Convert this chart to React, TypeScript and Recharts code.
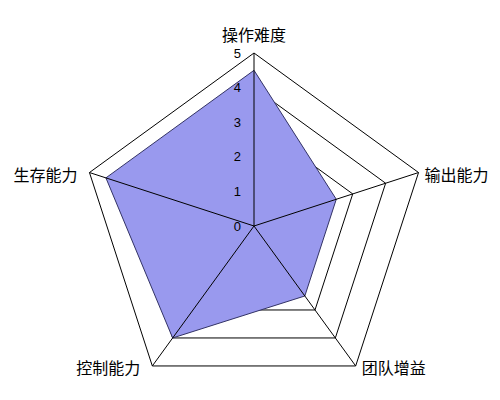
import React from "react";
import {
  RadarChart,
  Radar,
  PolarGrid,
  PolarAngleAxis,
  PolarRadiusAxis,
} from "recharts";

const subjects = ["操作难度", "输出能力", "团队增益", "控制能力", "生存能力"];
const scores = [4.5, 2.5, 2.5, 4, 4.5];
const radiusTicks = [0, 1, 2, 3, 4, 5];

const data = subjects.map((subject, i) => ({ subject, value: scores[i] }));

const CX = 246;
const CY = 218;
const R = 173;

const AngleTick = (props: any) => {
  const { payload } = props;
  const rad = (payload.coordinate * Math.PI) / 180;
  const cos = Math.cos(rad);
  const vx = CX + R * cos;
  const vy = CY - R * Math.sin(rad);
  let x = vx;
  let y = vy;
  let anchor: "start" | "middle" | "end" = "middle";
  if (cos > 0.01) {
    anchor = "start";
    x = vx + 6;
    y = vy + 1;
  } else if (cos < -0.01) {
    anchor = "end";
    x = vx - 12;
    y = vy + 1;
  } else {
    y = vy - 19;
  }
  return (
    <text
      x={x}
      y={y}
      textAnchor={anchor}
      dominantBaseline="central"
      fontSize={16}
      fontFamily="'Noto Sans CJK SC', sans-serif"
      fill="#000"
    >
      {payload.value}
    </text>
  );
};

const RadiusTick = (props: any) => {
  const { x, y, payload } = props;
  return (
    <text
      x={x - 13}
      y={y}
      textAnchor="end"
      dominantBaseline="central"
      fontSize={13}
      fontFamily="'Liberation Sans', sans-serif"
      fill="#000"
    >
      {payload.value}
    </text>
  );
};

export default function App() {
  return (
    <div style={{ width: 500, height: 400, background: "#fff" }}>
      <RadarChart
        width={500}
        height={400}
        data={data}
        cx={CX}
        cy={CY}
        outerRadius={R}
        margin={{ top: 0, right: 0, bottom: 0, left: 0 }}
      >
        <PolarGrid gridType="polygon" radialLines={false} stroke="#000" strokeOpacity={1} />
        <PolarAngleAxis
          dataKey="subject"
          tick={AngleTick}
          tickLine={false}
          axisLine={false}
        />
        <PolarRadiusAxis
          angle={90}
          domain={[0, 5]}
          ticks={radiusTicks as any}
          tickCount={6}
          axisLine={false}
          tickLine={false}
          tick={RadiusTick}
        />
        <Radar
          dataKey="value"
          stroke="#333366"
          strokeWidth={1}
          fill="#9999ee"
          fillOpacity={1}
          dot={false}
          isAnimationActive={false}
        />
        <PolarGrid
          gridType="polygon"
          polarRadius={[0]}
          radialLines
          stroke="#000"
          strokeOpacity={1}
          zIndex={600}
        />
      </RadarChart>
    </div>
  );
}
